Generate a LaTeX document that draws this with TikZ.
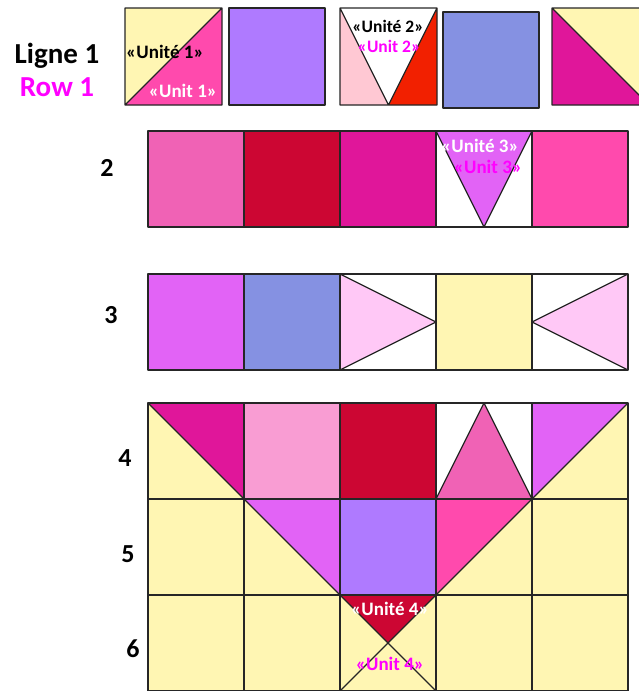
\documentclass[tikz,border=0pt]{standalone}
\usepackage{fontspec}
\setmainfont{Carlito}
\definecolor{PatchYellow}{HTML}{FFF6B3}
\definecolor{PatchPink}{HTML}{FF4AAD}
\definecolor{PatchPurple}{HTML}{AF7AFF}
\definecolor{PatchBlush}{HTML}{FFC8D3}
\definecolor{PatchRed}{HTML}{F22000}
\definecolor{PatchBlue}{HTML}{8591E2}
\definecolor{PatchMagenta}{HTML}{E0169A}
\definecolor{PatchRose}{HTML}{F062B5}
\definecolor{PatchCrimson}{HTML}{CC0633}
\definecolor{PatchViolet}{HTML}{E263F6}
\definecolor{PatchLilac}{HTML}{FFC8F6}
\definecolor{PatchLightRose}{HTML}{F99DD3}
\definecolor{LabelMagenta}{HTML}{FF00FF}

\begin{document}
\begin{tikzpicture}[x=1pt,y=-1pt,
    edge/.style={draw=black!85,line width=1.2pt,line join=round},
    rowlabel/.style={font=\fontsize{26}{28}\selectfont\bfseries},
    unitfr/.style={font=\fontsize{19}{21}\selectfont\bfseries,inner sep=0pt},
    uniten/.style={unitfr,text=LabelMagenta}]
    \useasboundingbox (0,0) rectangle (639,691);
    \clip (0,0) rectangle (639,691);
    % row 1
    \fill[PatchYellow] (125,8) -- (222,8) -- (125,105) -- cycle;
    \fill[PatchPink] (222,8) -- (222,105) -- (125,105) -- cycle;
    \draw[edge] (125,8) rectangle (222,105) (125,105) -- (222,8);
    \fill[PatchPurple] (229,8) rectangle (325,105);
    \draw[edge] (229,8) rectangle (325,105);
    \fill[PatchBlush] (340,8) -- (388.5,105) -- (340,105) -- cycle;
    \fill[PatchRed] (437,8) -- (437,105) -- (388.5,105) -- cycle;
    \draw[edge] (340,8) rectangle (437,105) (340,8) -- (388.5,105) -- (437,8);
    \fill[PatchBlue] (443,12) rectangle (539,108);
    \draw[edge] (443,12) rectangle (539,108);
    \fill[PatchYellow] (552,8) rectangle (649,105);
    \fill[PatchMagenta] (552,8) -- (649,105) -- (552,105) -- cycle;
    \draw[edge] (552,8) rectangle (649,105) (552,8) -- (649,105);
    % row 2
    \foreach \c [count=\i from 0] in {PatchRose,PatchCrimson,PatchMagenta,white,PatchPink}
      \fill[\c] (148+96*\i,131) rectangle +(96,96);
    \fill[PatchViolet] (436,131) -- (532,131) -- (484,227) -- cycle;
    \foreach \i in {0,...,4}
      \draw[edge] (148+96*\i,131) rectangle +(96,96);
    \draw[edge] (436,131) -- (484,227) -- (532,131);
    % row 3
    \foreach \c [count=\i from 0] in {PatchViolet,PatchBlue,white,PatchYellow,white}
      \fill[\c] (148+96*\i,274) rectangle +(96,96);
    \fill[PatchLilac] (340,274) -- (436,322) -- (340,370) -- cycle;
    \fill[PatchLilac] (628,274) -- (532,322) -- (628,370) -- cycle;
    \foreach \i in {0,...,4}
      \draw[edge] (148+96*\i,274) rectangle +(96,96);
    \draw[edge] (340,274) -- (436,322) -- (340,370);
    \draw[edge] (628,274) -- (532,322) -- (628,370);
    % rows 4 to 6
    \fill[PatchYellow] (148,403) rectangle (628,691);
    \fill[PatchMagenta] (148,403) -- (244,403) -- (244,499) -- cycle;
    \fill[PatchLightRose] (244,403) rectangle (340,499);
    \fill[PatchCrimson] (340,403) rectangle (436,499);
    \fill[white] (436,403) rectangle (532,499);
    \fill[PatchRose] (436,499) -- (484,403) -- (532,499) -- cycle;
    \fill[PatchViolet] (532,403) -- (628,403) -- (532,499) -- cycle;
    \fill[PatchViolet] (244,499) -- (340,499) -- (340,595) -- cycle;
    \fill[PatchPurple] (340,499) rectangle (436,595);
    \fill[PatchPink] (436,499) -- (532,499) -- (436,595) -- cycle;
    \fill[PatchCrimson] (340,595) -- (436,595) -- (388,643) -- cycle;
    \foreach \i in {0,...,4}
      \foreach \j in {0,1,2}
        \draw[edge] (148+96*\i,403+96*\j) rectangle +(96,96);
    \draw[edge] (148,403) -- (340,595) (628,403) -- (436,595);
    \draw[edge] (436,499) -- (484,403) -- (532,499);
    \draw[edge] (340,595) -- (436,691) (436,595) -- (340,691);
    % labels
    \node[font=\fontsize{29}{31}\selectfont\bfseries] (ligne) at (57,56) {Ligne 1};
    \node[font=\fontsize{29}{31}\selectfont\bfseries,text=LabelMagenta] (row) at (57,87) {Row 1};
    \node[rowlabel] (n2) at (107,168) {2};
    \node[rowlabel] (n3) at (111,315) {3};
    \node[rowlabel] (n4) at (125,458) {4};
    \node[rowlabel] (n5) at (128,554) {5};
    \node[rowlabel] (n6) at (133,649) {6};
    \node[unitfr] (fr1) at (165,52) {«Unité 1»};
    \node[unitfr,text=white] (en1) at (183,91) {«Unit 1»};
    \node[unitfr,font=\fontsize{17.5}{19}\selectfont\bfseries] (fr2) at (388,26.5) {«Unité 2»};
    \node[uniten,font=\fontsize{17.5}{19}\selectfont\bfseries] (en2) at (389,46) {«Unit 2»};
    \node[unitfr,text=white] (fr3) at (480,146) {«Unité 3»};
    \node[uniten] (en3) at (488,167) {«Unit 3»};
    \node[unitfr,text=white] (fr4) at (390,609) {«Unité 4»};
    \node[uniten] (en4) at (390,664) {«Unit 4»};
\end{tikzpicture}
\end{document}
